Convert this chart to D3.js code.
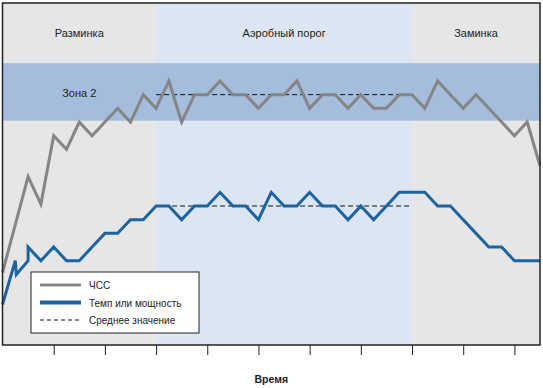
<!DOCTYPE html>
<html>
<head>
<meta charset="utf-8">
<script src="https://cdn.jsdelivr.net/npm/d3@7"></script>
<style>
body { margin: 0; background: #fff; }
text { font-family: "Liberation Sans", Arial, sans-serif; fill: #222; }
</style>
</head>
<body>
<div id="chart"></div>
<script>

// time in minutes, one point every 2.5 min
var hrTime = [0, 2.5, 5, 7.5, 10, 12.5, 15, 17.5, 20, 22.5, 25, 27.5, 30, 32.5, 35, 37.5, 40, 42.5, 45, 47.5, 50,
              52.5, 55, 57.5, 60, 62.5, 65, 67.5, 70, 72.5, 75, 77.5, 80, 82.5, 85, 87.5, 90, 92.5, 95, 97.5, 100, 102.5, 105];
// heart rate (bpm)
var hr = [80, 97.5, 115, 105, 130, 125, 135, 130, 135, 140, 135, 145, 140, 150, 135, 145, 145, 150, 145, 145, 140,
          145, 145, 150, 140, 145, 145, 140, 145, 140, 140, 145, 145, 140, 150, 145, 140, 145, 140, 135, 130, 135, 119];

// pace / power (W)
var powerTime = [0, 2.5, 2.7, 5, 5, 7.5, 10, 12.5, 15, 17.5, 20, 22.5, 25, 27.5, 30, 32.5, 35, 37.5, 40, 42.5, 45,
                 47.5, 50, 52.5, 55, 57.5, 60, 62.5, 65, 67.5, 70, 72.5, 75, 77.5, 80, 82.5, 85, 87.5, 90, 92.5, 95,
                 97.5, 100, 102.5, 105];
var power = [128, 160, 150, 160, 170, 160, 170, 160, 160, 170, 180, 180, 190, 190, 200, 200, 190, 200, 200, 210, 200,
             200, 190, 210, 200, 200, 210, 200, 200, 190, 200, 190, 200, 210, 210, 210, 200, 200, 190, 180, 170,
             170, 160, 160, 160];

var phaseNames = ["Разминка", "Аэробный порог", "Заминка"];
var phaseStart = [0, 30, 80];
var phaseEnd = [30, 80, 105];

var zone2 = [135.5, 156.5];
var hrMean = 145;
var powerMean = 200;
var meanRange = [30, 80];

var tickTimes = [10, 20, 30, 40, 50, 60, 70, 80, 90, 100];

var legendNames = ["ЧСС", "Темп или мощность", "Среднее значение"];


var width = 543,
    height = 388;

var plotLeft = 2.5, plotRight = 540, plotTop = 3, plotBottom = 345;

var x = d3.scaleLinear().domain([0, 105]).range([plotLeft, plotRight]);
var yHr = d3.scaleLinear().domain([53.5, 178.5]).range([plotBottom, plotTop]);
var yPower = d3.scaleLinear().domain([98.4, 348.4]).range([plotBottom, plotTop]);

var svg = d3.select("#chart")
            .append("svg")
            .attr("width", width)
            .attr("height", height);

// phases
svg.selectAll(".phase")
    .data(phaseNames)
    .enter()
    .append("rect")
        .attr("class", "phase")
        .attr("x", function(d, i) { return x(phaseStart[i]); })
        .attr("y", plotTop)
        .attr("width", function(d, i) { return x(phaseEnd[i]) - x(phaseStart[i]); })
        .attr("height", plotBottom - plotTop)
        .style("fill", function(d, i) { return i == 1 ? "#dce6f2" : "#e6e6e6"; });

// zone 2 band
svg.append("rect")
    .attr("x", plotLeft)
    .attr("y", yHr(zone2[1]))
    .attr("width", plotRight - plotLeft)
    .attr("height", yHr(zone2[0]) - yHr(zone2[1]))
    .style("fill", "#a5bddc");

svg.selectAll(".phase-label")
    .data(phaseNames)
    .enter()
    .append("text")
        .attr("class", "phase-label")
        .attr("x", function(d, i) { return (x(phaseStart[i]) + x(phaseEnd[i])) / 2; })
        .attr("y", 37)
        .attr("text-anchor", "middle")
        .style("font-size", "11px")
        .text(function(d) { return d; });

svg.append("text")
    .attr("x", (x(phaseStart[0]) + x(phaseEnd[0])) / 2)
    .attr("y", 97)
    .attr("text-anchor", "middle")
    .style("font-size", "11px")
    .text("Зона 2");

// mean lines
svg.append("line")
    .attr("x1", x(meanRange[0])).attr("x2", x(meanRange[1]))
    .attr("y1", yHr(hrMean)).attr("y2", yHr(hrMean))
    .style("stroke", "#111").style("stroke-width", 1).style("stroke-dasharray", "5,3");

svg.append("line")
    .attr("x1", x(meanRange[0])).attr("x2", x(meanRange[1]))
    .attr("y1", yPower(powerMean)).attr("y2", yPower(powerMean))
    .style("stroke", "#111").style("stroke-width", 1).style("stroke-dasharray", "5,3");

var hrLine = d3.line()
    .x(function(d, i) { return x(hrTime[i]); })
    .y(function(d) { return yHr(d); });

var powerLine = d3.line()
    .x(function(d, i) { return x(powerTime[i]); })
    .y(function(d) { return yPower(d); });

svg.append("path")
    .attr("d", hrLine(hr))
    .style("fill", "none")
    .style("stroke", "#858585")
    .style("stroke-width", 3);

svg.append("path")
    .attr("d", powerLine(power))
    .style("fill", "none")
    .style("stroke", "#1c64a0")
    .style("stroke-width", 3);

// frame
svg.append("rect")
    .attr("x", plotLeft).attr("y", plotTop)
    .attr("width", plotRight - plotLeft).attr("height", plotBottom - plotTop)
    .style("fill", "none")
    .style("stroke", "#222")
    .style("stroke-width", 1.5);

var axis = svg.append("g")
    .attr("transform", "translate(0," + plotBottom + ")")
    .call(d3.axisBottom(x).tickValues(tickTimes).tickFormat("").tickSize(10).tickSizeOuter(0));
axis.select(".domain").remove();
axis.selectAll("line").style("stroke", "#222");

svg.append("text")
    .attr("x", (plotLeft + plotRight) / 2)
    .attr("y", 383)
    .attr("text-anchor", "middle")
    .style("font-size", "10.5px")
    .style("font-weight", "bold")
    .text("Время");

// legend
var legend = svg.append("g").attr("transform", "translate(31,272)");
legend.append("rect")
    .attr("width", 168).attr("height", 61)
    .style("fill", "#fff").style("stroke", "#222").style("stroke-width", 1);

var items = legend.selectAll(".item")
    .data(legendNames)
    .enter()
    .append("g")
        .attr("class", "item")
        .attr("transform", function(d, i) { return "translate(0," + (13 + i * 17.5) + ")"; });

items.append("line")
    .attr("x1", 9).attr("x2", 50)
    .style("stroke", function(d, i) { return ["#858585", "#1c64a0", "#111"][i]; })
    .style("stroke-width", function(d, i) { return [3, 4, 1][i]; })
    .style("stroke-dasharray", function(d, i) { return i == 2 ? "4,3" : null; });

items.append("text")
    .attr("transform", "translate(58,4) scale(0.87,1)")
    .style("font-size", "11.5px")
    .text(function(d) { return d; });

</script>
</body>
</html>
